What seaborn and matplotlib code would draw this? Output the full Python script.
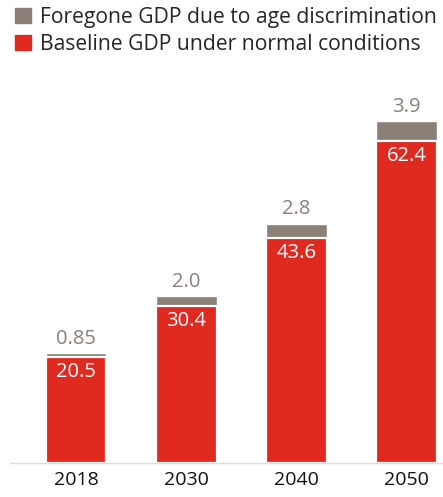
import matplotlib.pyplot as plt
import seaborn as sns
import pandas as pd
from matplotlib.patches import Patch

# Data
years = ['2018', '2030', '2040', '2050']
baseline = [20.5, 30.4, 43.6, 62.4]
foregone = [0.85, 2.0, 2.8, 3.9]
foregone_labels = ['0.85', '2.0', '2.8', '3.9']

red = '#E0291F'
grey = '#8B7F78'

sns.set_theme(style='white')
plt.rcParams['font.family'] = ['Open Sans', 'DejaVu Sans']

df = pd.DataFrame({'Year': years, 'Baseline': baseline, 'Foregone': foregone})
df['Total'] = df['Baseline'] + df['Foregone']

fig = plt.figure(figsize=(4.43, 4.97), dpi=100, facecolor='white')
ax = fig.add_axes([10 / 443, 34 / 497, 433 / 443, 350 / 497])

# total bar in grey, baseline drawn over it with a white top edge
sns.barplot(data=df, x='Year', y='Total', color=grey, width=0.55, saturation=1, ax=ax)
sns.barplot(data=df, x='Year', y='Baseline', color=red, width=0.55, saturation=1,
            edgecolor='white', linewidth=1.6, ax=ax)

ax.set_xlim(-0.6, 3.33)
ax.set_ylim(0, 350 / 5.16)

for i, row in df.iterrows():
    ax.text(i, row['Baseline'] - 0.9, f"{row['Baseline']:.1f}", ha='center', va='top',
            color='white', fontsize=14.5)
    ax.text(i, row['Total'] + 0.8, foregone_labels[i], ha='center', va='bottom',
            color=grey, fontsize=14.5)

for side in ['top', 'right', 'left']:
    ax.spines[side].set_visible(False)
ax.spines['bottom'].set_color('#DDDDDD')
ax.spines['bottom'].set_linewidth(1.0)
ax.set_yticks([])
ax.set_xlabel('')
ax.set_ylabel('')
ax.tick_params(axis='x', length=0, labelsize=14, colors='#111111', pad=6)

handles = [Patch(color=grey, label='Foregone GDP due to age discrimination'),
           Patch(color=red, label='Baseline GDP under normal conditions')]
fig.legend(handles=handles, loc='upper left', bbox_to_anchor=(0.0, 1.016), frameon=False,
           fontsize=15.2, handlelength=0.75, handleheight=0.75, handletextpad=0.45,
           labelspacing=0.28, borderaxespad=0.3)

fig.savefig('out.png', dpi=100, facecolor='white')
